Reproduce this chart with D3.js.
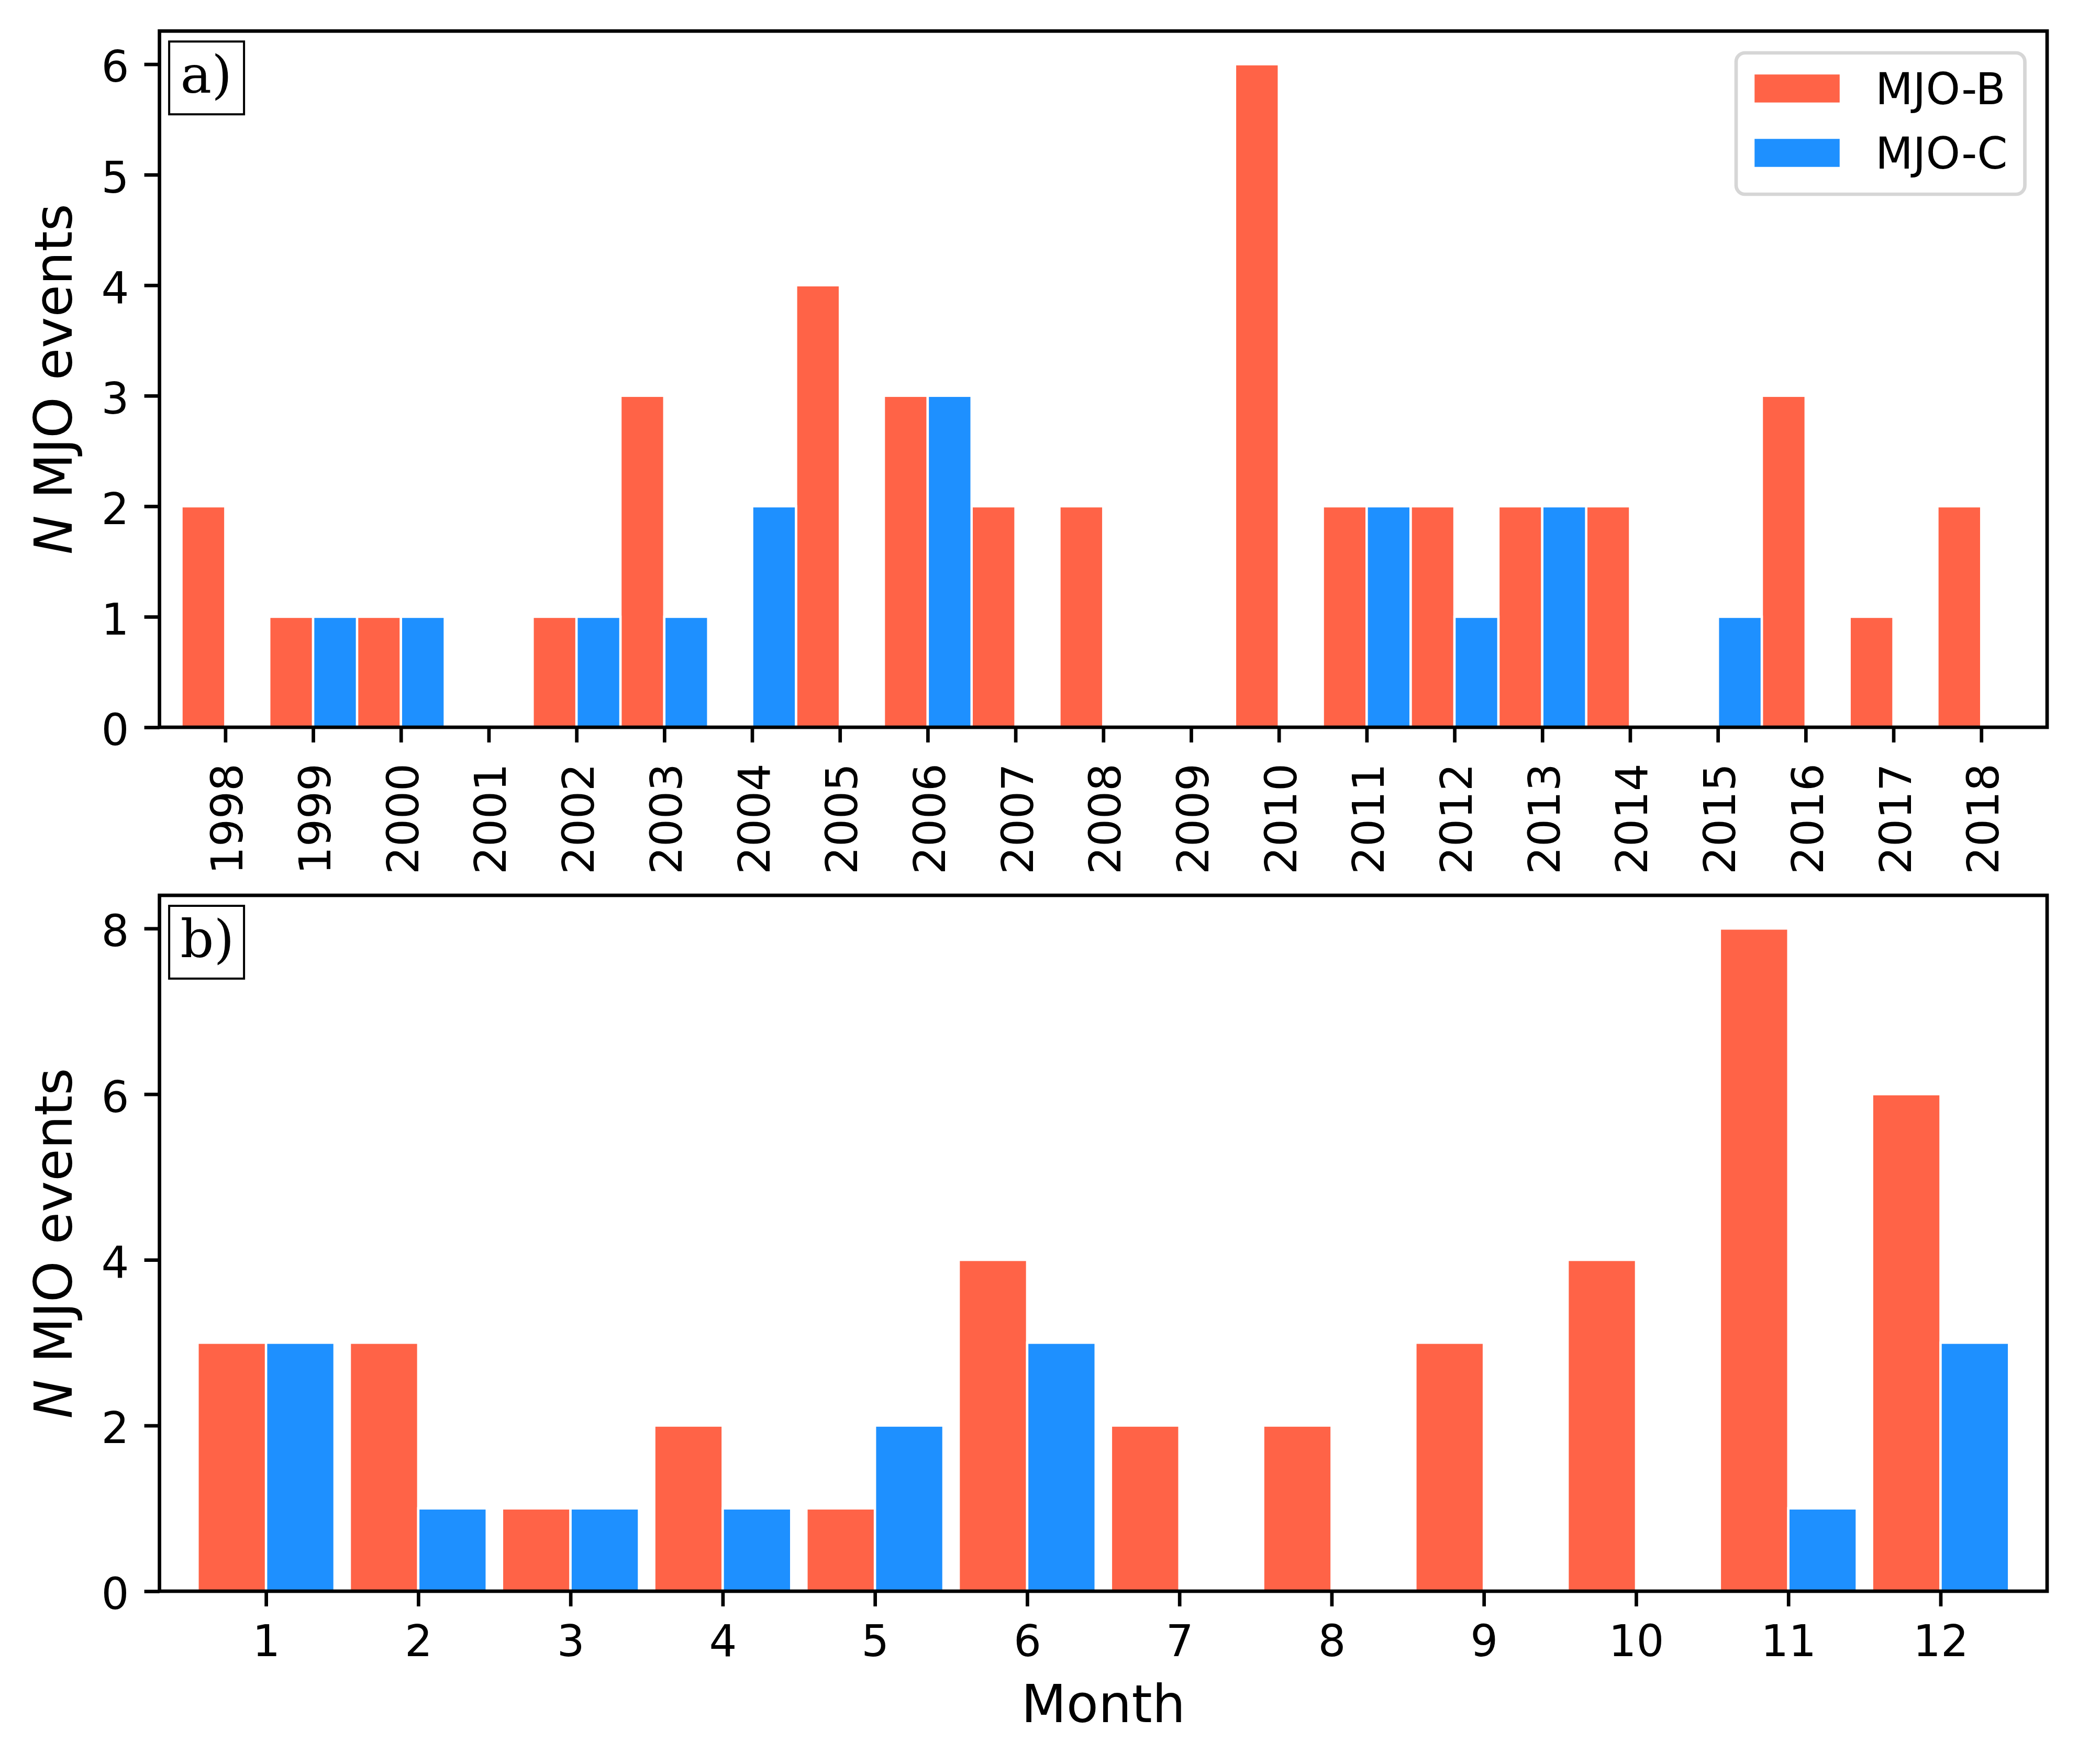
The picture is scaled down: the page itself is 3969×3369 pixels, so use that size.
<!DOCTYPE html>
<html>
<head>
<meta charset="utf-8">
<script src="https://cdn.jsdelivr.net/npm/d3@7/dist/d3.min.js"></script>
<style>
  body { margin: 0; background: #fff; }
  svg { display: block; background: #fff; }
  text { font-family: "DejaVu Sans", sans-serif; }
</style>
</head>
<body>
<svg id="fig" width="3969" height="3369"></svg>
<script>
/* ---------- data ---------- */
const years = [1998, 1999, 2000, 2001, 2002, 2003, 2004, 2005, 2006, 2007, 2008,
  2009, 2010, 2011, 2012, 2013, 2014, 2015, 2016, 2017, 2018];
const yearMjoB = [2, 1, 1, 0, 1, 3, 0, 4, 3, 2, 2, 0, 6, 2, 2, 2, 2, 0, 3, 1, 2];
const yearMjoC = [0, 1, 1, 0, 1, 1, 2, 0, 3, 0, 0, 0, 0, 2, 1, 2, 0, 1, 0, 0, 0];

const months = [1, 2, 3, 4, 5, 6, 7, 8, 9, 10, 11, 12];
const monthMjoB = [3, 3, 1, 2, 1, 4, 2, 2, 3, 4, 8, 6];
const monthMjoC = [3, 1, 1, 1, 2, 3, 0, 0, 0, 0, 1, 3];

const yTicksA = [0, 1, 2, 3, 4, 5, 6];
const yTicksB = [0, 2, 4, 6, 8];
const seriesNames = ["MJO-B", "MJO-C"];

/* ---------- style ---------- */
const colB = "#FF6347";
const colC = "#1E90FF";
const tickFont = 83.3;   // 10pt @600dpi
const labelFont = 100;   // 12pt
const lw = 6.7;          // 0.8pt
const tickLen = 29;

const svg = d3.select("#fig");
const left = 304.6, right = 3910;

function panel(opt) {
  const x = d3.scaleLinear().domain(opt.xDomain).range([left, right]);
  const y = d3.scaleLinear().domain([0, opt.yMax]).range([opt.bottom, opt.top]);
  const g = svg.append("g");

  /* bars: B left of the tick, C right of it */
  const bars = [];
  opt.cats.forEach((c, i) => {
    bars.push({ x0: c - opt.w, x1: c, v: opt.b[i], col: colB });
  });
  opt.cats.forEach((c, i) => {
    bars.push({ x0: c, x1: c + opt.w, v: opt.c[i], col: colC });
  });
  g.selectAll("rect.bar")
    .data(bars)
    .join("rect")
    .attr("class", "bar")
    .attr("x", (d) => x(d.x0))
    .attr("width", (d) => x(d.x1) - x(d.x0))
    .attr("y", (d) => y(d.v))
    .attr("height", (d) => y(0) - y(d.v))
    .attr("fill", (d) => d.col)
    .attr("stroke", "#fff")
    .attr("stroke-width", 4.5);

  /* x axis */
  const xa = g.append("g")
    .attr("transform", `translate(0,${opt.bottom})`)
    .call(d3.axisBottom(x).tickValues(opt.cats).tickFormat(d3.format("d"))
      .tickSizeInner(tickLen).tickSizeOuter(0));
  xa.select(".domain").remove();
  xa.selectAll("line").attr("stroke", "#000").attr("stroke-width", lw);
  xa.selectAll("text")
    .attr("font-size", tickFont)
    .attr("fill", "#000");
  if (opt.rotate) {
    xa.selectAll("text")
      .attr("transform", "rotate(-90)")
      .attr("text-anchor", "end")
      .attr("x", -69)
      .attr("y", 0)
      .attr("dy", "0.39em");
  } else {
    xa.selectAll("text").attr("y", 124).attr("dy", 0);
  }

  /* y axis */
  const ya = g.append("g")
    .attr("transform", `translate(${left},0)`)
    .call(d3.axisLeft(y).tickValues(opt.yTicks).tickFormat(d3.format("d"))
      .tickSizeInner(tickLen).tickSizeOuter(0).tickPadding(29));
  ya.select(".domain").remove();
  ya.selectAll("line").attr("stroke", "#000").attr("stroke-width", lw);
  ya.selectAll("text")
    .attr("font-size", tickFont)
    .attr("fill", "#000")
    .attr("dy", "0.4em");

  /* frame */
  g.append("rect")
    .attr("x", left).attr("y", opt.top)
    .attr("width", right - left).attr("height", opt.bottom - opt.top)
    .attr("fill", "none").attr("stroke", "#000").attr("stroke-width", lw);

  /* y label */
  const yl = g.append("text")
    .attr("transform", `translate(137,${(opt.top + opt.bottom) / 2}) rotate(-90)`)
    .attr("text-anchor", "middle")
    .attr("font-size", labelFont);
  yl.append("tspan").style("font-style", "italic").text("N");
  yl.append("tspan").text(" MJO events");

  /* panel tag */
  g.append("rect")
    .attr("x", left + 18.5).attr("y", opt.top + 20)
    .attr("width", 143).attr("height", 139)
    .attr("fill", "#fff").attr("stroke", "#000").attr("stroke-width", 4);
  g.append("text")
    .attr("x", left + 40).attr("y", opt.top + 118)
    .style("font-family", "'DejaVu Serif', serif")
    .attr("font-size", labelFont)
    .text(opt.tag);

  return g;
}

panel({
  top: 59.3, bottom: 1389, xDomain: [1997.25, 2018.75], yMax: 6.3,
  cats: years, b: yearMjoB, c: yearMjoC, w: 0.5, yTicks: yTicksA,
  rotate: true, tag: "a)"
});
panel({
  top: 1710, bottom: 3039, xDomain: [0.3, 12.7], yMax: 8.4,
  cats: months, b: monthMjoB, c: monthMjoC, w: 0.45, yTicks: yTicksB,
  rotate: false, tag: "b)"
});

/* x label for bottom panel */
svg.append("text")
  .attr("x", (left + right) / 2).attr("y", 3289)
  .attr("text-anchor", "middle")
  .attr("font-size", labelFont)
  .text("Month");

/* legend (panel a) */
const leg = svg.append("g");
leg.append("rect")
  .attr("x", 3316).attr("y", 101)
  .attr("width", 551.5).attr("height", 270)
  .attr("rx", 17).attr("ry", 17)
  .attr("fill", "#fff").attr("stroke", "#d6d6d6").attr("stroke-width", 6.7);
const legRows = leg.selectAll("g.row")
  .data(seriesNames)
  .join("g")
  .attr("class", "row")
  .attr("transform", (d, i) => `translate(0,${i * 123})`);
legRows.append("rect")
  .attr("x", 3349).attr("y", 140)
  .attr("width", 167).attr("height", 58)
  .attr("fill", (d, i) => (i === 0 ? colB : colC))
  .attr("stroke", "#fff").attr("stroke-width", 4.5);
legRows.append("text")
  .attr("x", 3582).attr("y", 199)
  .attr("font-size", tickFont)
  .text((d) => d);
</script>
</body>
</html>
